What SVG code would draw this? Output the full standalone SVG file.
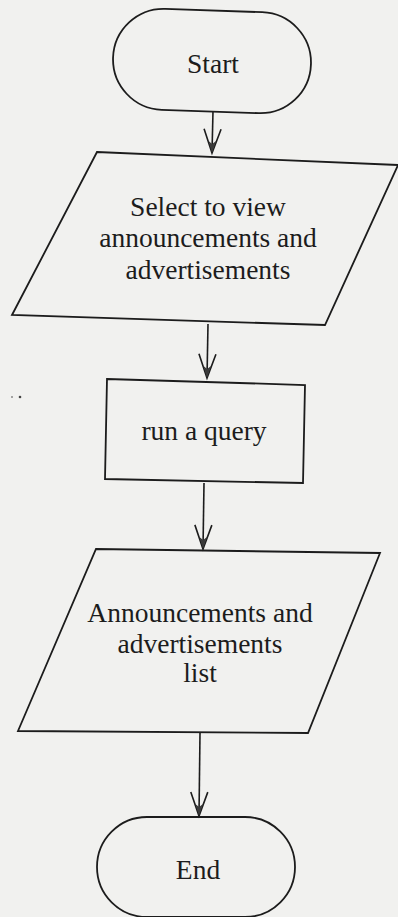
<svg xmlns="http://www.w3.org/2000/svg" width="398" height="917" viewBox="0 0 398 917">
  <style>
    .shape { fill: none; stroke: #1c1c1c; stroke-width: 1.8; stroke-linejoin: miter; }
    .link { fill: none; stroke: #1c1c1c; stroke-width: 1.6; }
    .label { font-family: "Liberation Serif", "Times New Roman", serif; font-size: 27.5px; fill: #1c1c1c; text-anchor: middle; }
  </style>
  <defs>
    <!-- open V arrowhead with a small dark barb at the tip -->
    <marker id="vhead" markerUnits="userSpaceOnUse" markerWidth="30" markerHeight="24" viewBox="-27 -12 30 24" refX="0" refY="0" orient="auto" overflow="visible">
      <path d="M-24,-8.5 L0,0 L-24,8.5" fill="none" stroke="#1c1c1c" stroke-width="1.6"/>
      <path d="M0,0 L-12,-3.8 L-9,0 L-12,3.8 Z" fill="#3a3a3a"/>
    </marker>
  </defs>

  <rect width="398" height="917" fill="#f1f1ef"/>

  <!-- speck marks -->
  <circle cx="12" cy="397" r="1" fill="#888"/>
  <circle cx="20" cy="397" r="1.3" fill="#444"/>

  <g id="connectors">
    <path class="link" d="M213,111 L212,153" marker-end="url(#vhead)"/>
    <path class="link" d="M208,324 L207,378" marker-end="url(#vhead)"/>
    <path class="link" d="M204,483 L203,549" marker-end="url(#vhead)"/>
    <path class="link" d="M200,733 L199,816" marker-end="url(#vhead)"/>
  </g>

  <g id="start">
    <rect class="shape" x="-99" y="-50.5" width="198" height="101" rx="50.5" ry="50.5" transform="translate(212,61) rotate(2)"/>
    <text class="label" x="213" y="73">Start</text>
  </g>

  <g id="select-view">
    <polygon class="shape" points="97,152 398,165 325,325 12,315"/>
    <text class="label" x="208" y="216">Select to view</text>
    <text class="label" x="208" y="247">announcements and</text>
    <text class="label" x="208" y="279">advertisements</text>
  </g>

  <g id="run-query">
    <polygon class="shape" points="107,379 305,385 303,483 105,479"/>
    <text class="label" x="204" y="440">run a query</text>
  </g>

  <g id="results-list">
    <polygon class="shape" points="96,549 380,553 308,733 18,731"/>
    <text class="label" x="200" y="622">Announcements and</text>
    <text class="label" x="200" y="653">advertisements</text>
    <text class="label" x="200" y="682">list</text>
  </g>

  <g id="end">
    <rect class="shape" x="97" y="817" width="198" height="100" rx="50" ry="50"/>
    <text class="label" x="198" y="879">End</text>
  </g>
</svg>
